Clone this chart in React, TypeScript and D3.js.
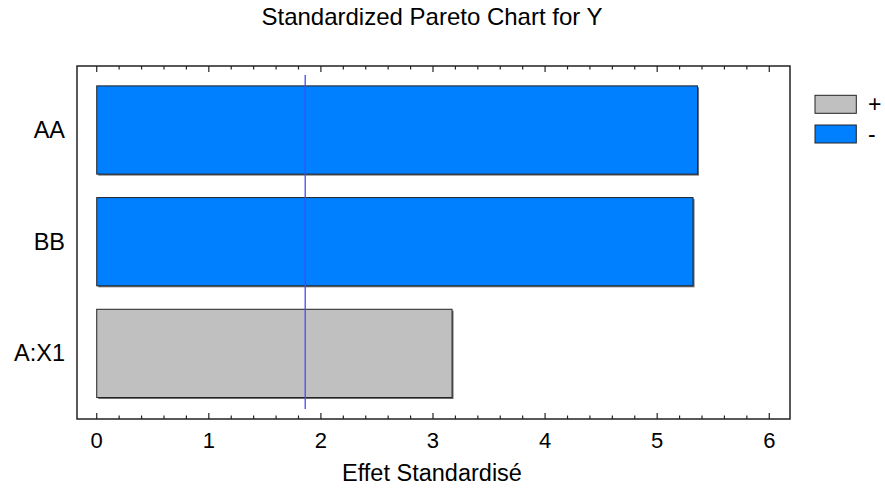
import React from "react";
import * as d3 from "d3";

const categories = ["AA", "BB", "A:X1"];
const effects = [5.36, 5.32, 3.17];
const signs = ["-", "-", "+"];
const xTicks = [0, 1, 2, 3, 4, 5, 6];
const criticalValue = 1.86;
const legendItems = ["+", "-"];
const title = "Standardized Pareto Chart for Y";
const xLabel = "Effet Standardisé";

const W = 885;
const H = 488;
const frame = { left: 77, right: 790, top: 66, bottom: 419 };
const colorFor: Record<string, string> = { "+": "#C0C0C0", "-": "#0080FF" };
const font = "'Liberation Sans', Arial, sans-serif";

export default function App() {
  const x = d3.scaleLinear().domain([-0.176, 6.185]).range([frame.left, frame.right]);
  const y = d3
    .scaleBand<string>()
    .domain(categories)
    .range([74.15, 409.25])
    .paddingInner(0.21)
    .paddingOuter(0.105);
  const minorTicks = d3.range(0, 6.0001, 0.2).map((v) => Math.round(v * 10) / 10);

  return (
    <svg
      width={W}
      height={H}
      style={{ position: "absolute", left: 0, top: 0, background: "#fff" }}
      fontFamily={font}
    >
      <text x={432} y={25} textAnchor="middle" fontSize={24} fill="#000">
        {title}
      </text>
      {/* bars */}
      {categories.map((c, i) => (
        <g key={c}>
          <rect
            x={x(0) + 1.5}
            y={y(c)! + 1.5}
            width={x(effects[i]) - x(0)}
            height={y.bandwidth()}
            fill="#707070"
          />
          <rect
            x={x(0)}
            y={y(c)!}
            width={x(effects[i]) - x(0)}
            height={y.bandwidth()}
            fill={colorFor[signs[i]]}
            stroke="#222"
            strokeWidth={1}
          />
        </g>
      ))}
      {/* critical line */}
      <line
        x1={x(criticalValue)}
        x2={x(criticalValue)}
        y1={75}
        y2={409}
        stroke="#4848ff"
        strokeWidth={1.3}
      />
      {/* frame */}
      <rect
        x={frame.left}
        y={frame.top}
        width={frame.right - frame.left}
        height={frame.bottom - frame.top}
        fill="none"
        stroke="#222"
        strokeWidth={1.5}
      />
      {/* ticks */}
      {minorTicks.map((t) => {
        const major = Math.abs(t - Math.round(t)) < 1e-6;
        const len = major ? 6 : 3.5;
        return (
          <g key={t}>
            <line x1={x(t)} x2={x(t)} y1={frame.bottom} y2={frame.bottom - len} stroke="#222" strokeWidth={1.2} />
            <line x1={x(t)} x2={x(t)} y1={frame.top} y2={frame.top + len} stroke="#222" strokeWidth={1.2} />
          </g>
        );
      })}
      {xTicks.map((t) => (
        <text key={t} x={x(t)} y={447.5} textAnchor="middle" fontSize={22} fill="#000">
          {t}
        </text>
      ))}
      <text x={432} y={481} textAnchor="middle" fontSize={23.5} fill="#000">
        {xLabel}
      </text>
      {categories.map((c) => (
        <text
          key={c}
          x={65}
          y={y(c)! + y.bandwidth() / 2 + 8}
          textAnchor="end"
          fontSize={23.5}
          fill="#000"
        >
          {c}
        </text>
      ))}
      {/* legend */}
      {legendItems.map((s, i) => (
        <g key={s}>
          <rect
            x={815}
            y={95.3 + i * 29.7}
            width={41.3}
            height={18}
            fill={colorFor[s]}
            stroke="#222"
            strokeWidth={1}
          />
          <text x={868} y={95.3 + i * 29.7 + 17} fontSize={23} fill="#000">
            {s}
          </text>
        </g>
      ))}
    </svg>
  );
}
